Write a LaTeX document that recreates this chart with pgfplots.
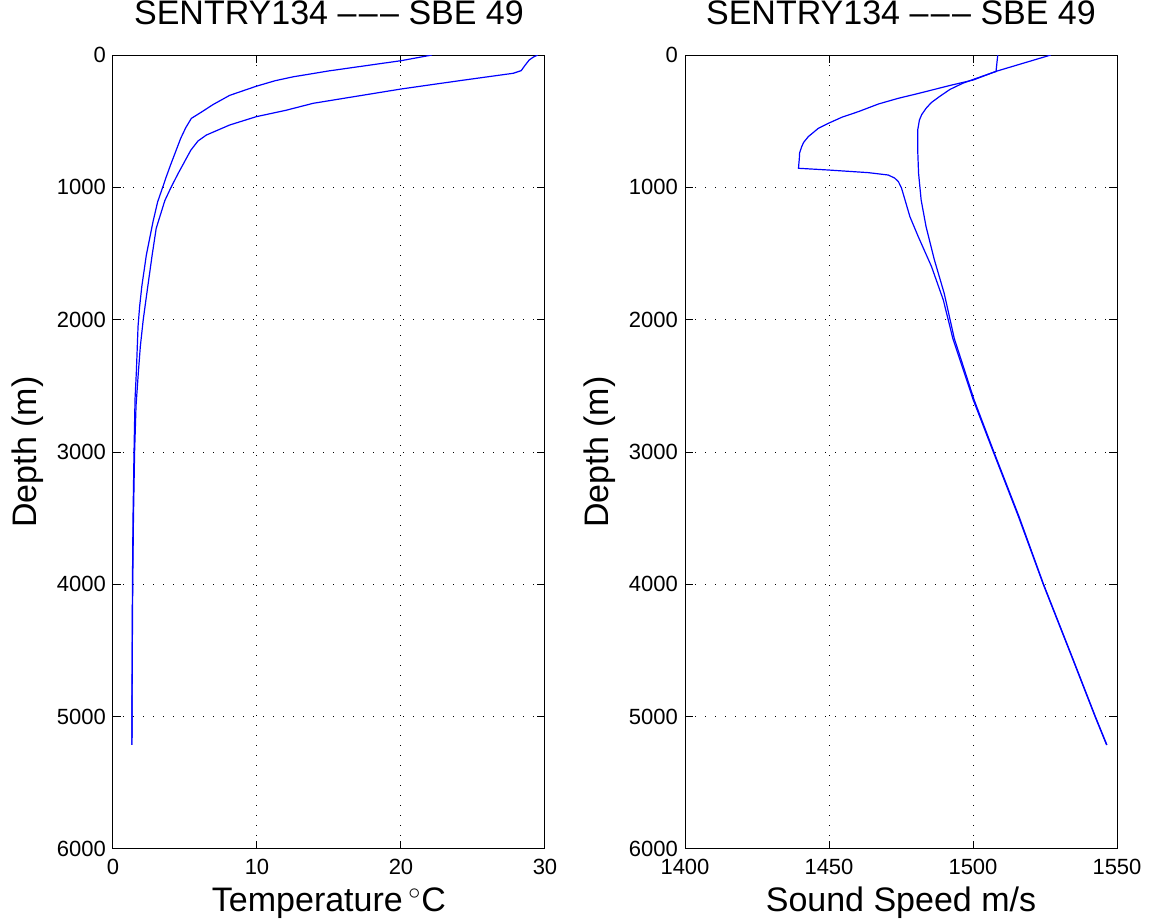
\documentclass[border=0pt]{standalone}
\usepackage{fontspec}
\setmainfont{Liberation Sans}
\usepackage{pgfplots}
\pgfplotsset{compat=1.18}
\begin{document}
\begin{tikzpicture}
\path[use as bounding box] (0,0) rectangle (576pt,462pt);
\pgfplotsset{
  every axis/.append style={
    scale only axis, width=216pt, height=397pt,
    anchor=south west,
    y dir=reverse, ymin=0, ymax=6000,
    ytick={0,1000,2000,3000,4000,5000,6000},
    scaled ticks=false,
    /pgf/number format/assume math mode=true,
    /pgf/number format/set thousands separator={},
    tick label style={font=\fontsize{11}{13}\selectfont},
    xticklabel style={yshift=-1.5pt},
    label style={font=\fontsize{17}{20}\selectfont},
    title style={font=\fontsize{17}{20}\selectfont, at={(axis description cs:0.5,1.0239)}, anchor=base},
    xlabel style={at={(axis description cs:0.5,-0.0793)}, anchor=base},
    ylabel style={at={(axis description cs:-0.176,0.5)}, anchor=base},
    grid=major,
    major grid style={black, line width=0.5pt, dash pattern=on 0.5pt off 4.5pt},
    axis line style={black, line width=0.5pt},
    major tick length=4pt,
    tick style={black, line width=0.5pt},
    tick align=inside,
    xtick pos=both, ytick pos=both,
    xticklabel pos=lower, yticklabel pos=left,
  },
  prof/.style={blue, line width=0.6pt, no markers},
}
\newcommand{\ttl}{SENTRY134 –\kern1.2pt–\kern1.2pt– SBE 49}
\begin{axis}[at={(56.5pt,37.5pt)},
  xmin=0, xmax=30, xtick={0,10,20,30},
  title={\ttl},
  xlabel={Temperature\,$^{\circ}$C},
  ylabel={Depth (m)}]
\addplot[prof] coordinates {
(22.15,0) (20.0,43) (15.0,120) (12.5,165) (11.27,194) (9.95,236) (8.1,305) (6.94,375)
(6.19,428) (5.44,479) (5.05,550) (4.7,630) (4.35,730) (4.0,830) (3.7,920) (3.45,1000)
(3.1,1110) (2.78,1259) (2.31,1515) (2.0,1750) (1.85,1900) (1.74,2050) (1.62,2400) (1.53,2600)
(1.46,3000) (1.39,3500) (1.35,4000) (1.33,4500) (1.32,5000) (1.31,5214)
};
\addplot[prof] coordinates {
(29.5,0) (29.2,15) (28.9,38) (28.6,80) (28.35,118) (27.8,138) (24,195) (20.0,257)
(13.9,365) (12.0,418) (9.95,466) (8.1,529) (6.48,605) (5.9,650) (5.4,720) (4.97,806)
(4.5,900) (4.0,1007) (3.6,1100) (3.0,1310) (2.72,1511) (2.35,1800) (2.1,2000) (1.9,2200)
(1.76,2400) (1.6,2650) (1.5,3000) (1.42,3500) (1.37,4000) (1.34,4500) (1.32,5000) (1.31,5214)
};
\end{axis}
\begin{axis}[at={(342.5pt,37.5pt)},
  xmin=1400, xmax=1550, xtick={1400,1450,1500,1550},
  title={\ttl},
  xlabel={Sound Speed m/s},
  ylabel={Depth (m)}]
\addplot[prof] coordinates {
(1527.0,0) (1507.6,126) (1500.1,189) (1492.6,227) (1480.0,296) (1474.1,327) (1467.2,370)
(1460.2,428) (1454.5,470) (1449.8,516) (1446.3,554) (1442.8,617) (1441.2,660) (1440.5,693)
(1439.8,740) (1439.7,781) (1439.4,856) (1449.8,869) (1463.7,889) (1470.6,907) (1472.8,930)
(1474.1,957) (1475.2,1007) (1476.4,1096) (1478.1,1222) (1481.0,1373) (1485.6,1599)
(1489.7,1852) (1493.0,2142) (1500.1,2607) (1507.1,3002) (1515.8,3489) (1524.4,4000)
(1534.3,4547) (1542.4,5000) (1546.4,5214)
};
\addplot[prof] coordinates {
(1508.6,0) (1508.3,60) (1508.0,125) (1504.5,151) (1500.0,185) (1496.4,214) (1492.0,260)
(1488.3,315) (1485.5,360) (1483.7,403) (1482.2,450) (1481.4,491) (1480.8,567) (1480.8,718)
(1481.1,894) (1482.0,1096) (1483.7,1297) (1486.6,1549) (1490.0,1801) (1493.5,2142)
(1500.4,2607) (1507.3,3002) (1516.0,3489) (1524.5,4000) (1534.4,4547) (1542.5,5000) (1546.5,5214)
};
\end{axis}
\end{tikzpicture}
\end{document}
